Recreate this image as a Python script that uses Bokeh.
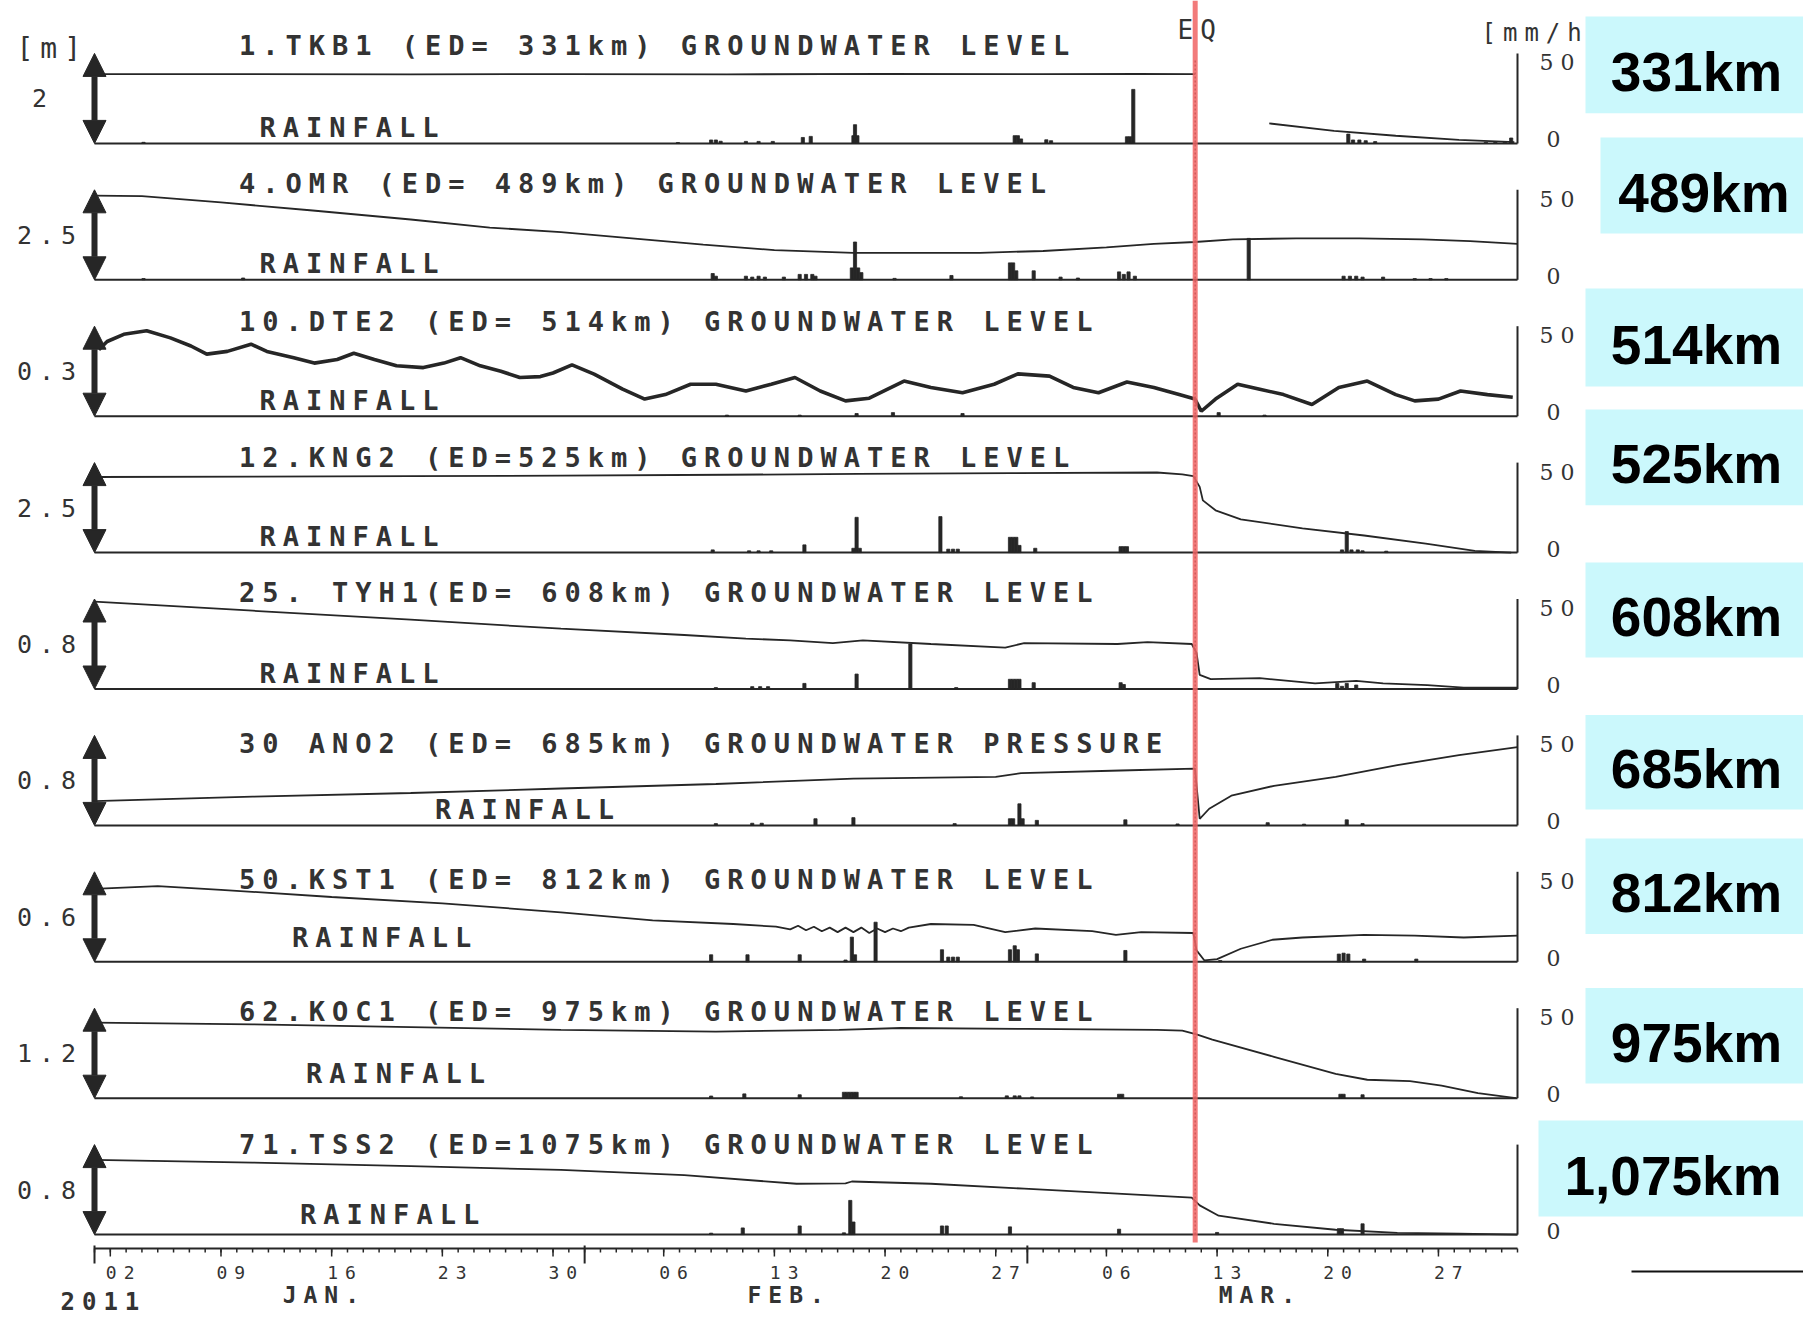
import numpy as np
from bokeh.plotting import figure
from bokeh.layouts import row
from bokeh.models import Range1d, Arrow, NormalHead, InlineStyleSheet
from bokeh.core.properties import value
from bokeh.embed import file_html
from bokeh.resources import INLINE

NaN = float("nan")

# ---------------------------------------------------------------- data
# time axis: days since 2011-01-01 00:00 (JST)
DAY_START, DAY_END = 0, 90
EQ_DAY = 69.615                      # 2011-03-11 14:46
RAIN_MAX = 50                        # mm/h at the top of every panel
rain_tick_labels = ["50", "0"]

panel_titles = [
    "1.TKB1 (ED= 331km) GROUNDWATER LEVEL",
    "4.OMR (ED= 489km) GROUNDWATER LEVEL",
    "10.DTE2 (ED= 514km) GROUNDWATER LEVEL",
    "12.KNG2 (ED=525km) GROUNDWATER LEVEL",
    "25. TYH1(ED= 608km) GROUNDWATER LEVEL",
    "30 ANO2 (ED= 685km) GROUNDWATER PRESSURE",
    "50.KST1 (ED= 812km) GROUNDWATER LEVEL",
    "62.KOC1 (ED= 975km) GROUNDWATER LEVEL",
    "71.TSS2 (ED=1075km) GROUNDWATER LEVEL",
]
distance_labels = ["331km", "489km", "514km", "525km", "608km",
                   "685km", "812km", "975km", "1,075km"]
gw_scale_m = [2.0, 2.5, 0.3, 2.5, 0.8, 0.8, 0.6, 1.2, 0.8]
gw_scale_labels = ["2", "2.5", "0.3", "2.5", "0.8", "0.8", "0.6", "1.2", "0.8"]

# groundwater level, metres above the bottom of each panel
gw1_day = [0, 10, 20, 30, 40, 50, 60, 66, 69.6, NaN, 74.3, 78.4, 82.3, 86.3, 89.8]
gw1_m = [1.54, 1.54, 1.536, 1.54, 1.534, 1.544, 1.54, 1.544, 1.54, NaN, 0.444, 0.28, 0.17, 0.08, 0.03]

gw2_day = [0, 3, 8, 13.8, 20, 25, 29.5, 34, 38.5, 43, 48, 52, 56, 60, 64, 67, 69.6,
           72, 76, 80, 84, 87, 90]
gw2_m = [2.34, 2.325, 2.15, 1.925, 1.675, 1.45, 1.325, 1.15, 0.975, 0.825, 0.75, 0.75,
         0.75, 0.80, 0.90, 1.00, 1.05, 1.125, 1.15, 1.15, 1.125, 1.075, 1.00]

gw3_day = [0.27, 0.8, 1.85, 3.3, 4.8, 6.1, 7.1, 8.4, 9.9, 10.9, 12.6, 13.9, 15.35, 16.4,
           17.7, 19.1, 20.8, 22.1, 23.15, 24.4, 25.7, 26.9, 28.2, 29.0, 30.2, 31.6,
           33.4, 34.8, 36.1, 37.7, 39.3, 41.2, 42.8, 44.3, 45.9, 47.5, 49.0, 51.2, 52.9,
           54.9, 56.9, 58.4, 60.4, 61.9, 63.5, 65.3, 67.0, 68.6, 69.6, 70.0, 70.9, 72.3,
           73.7, 75.2, 77.0, 78.7, 80.5, 82.3, 83.5, 85.0, 86.4, 88.1, 89.7]
gw3_m = [0.222, 0.249, 0.273, 0.285, 0.261, 0.234, 0.207, 0.216, 0.240, 0.216, 0.195,
         0.177, 0.189, 0.210, 0.189, 0.168, 0.162, 0.177, 0.195, 0.168, 0.150, 0.129,
         0.132, 0.144, 0.171, 0.140, 0.090, 0.057, 0.072, 0.1065, 0.1065, 0.084, 0.1065,
         0.129, 0.084, 0.051, 0.060, 0.117, 0.096, 0.078, 0.1065, 0.141, 0.1335, 0.096,
         0.078, 0.114, 0.096, 0.072, 0.057, 0.0165, 0.057, 0.1065, 0.090, 0.072, 0.039,
         0.096, 0.117, 0.072, 0.051, 0.057, 0.084, 0.072, 0.063]

gw4_day = [0, 10, 20, 29.5, 40, 48.3, 58, 67.2, 68.8, 69.5, 69.9, 70.1, 70.9, 72.5,
           76.4, 80.3, 84.2, 87.3, 89.6]
gw4_m = [2.10, 2.1125, 2.125, 2.1375, 2.1625, 2.185, 2.205, 2.225, 2.175, 2.125, 1.825,
         1.45, 1.175, 0.925, 0.675, 0.475, 0.25, 0.05, 0.0]

gw5_day = [0, 10, 20, 29.5, 37.3, 41.2, 44, 46.7, 48.6, 52.9, 57.6, 58.8, 64.7, 66.6,
           69.4, 69.7, 69.9, 70.6, 73.7, 77.2, 79.8, 81.5, 84.3, 86.6, 90]
gw5_m = [0.776, 0.696, 0.616, 0.536, 0.48, 0.448, 0.432, 0.408, 0.432, 0.40, 0.368,
         0.408, 0.40, 0.416, 0.40, 0.32, 0.125, 0.088, 0.096, 0.05, 0.072, 0.05, 0.035,
         0.012, 0.012]

gw6_day = [0, 10, 20, 29.5, 39.3, 48.0, 57.0, 58.6, 64.9, 69.6, 69.9, 70.5, 71.9, 74.6,
           78.5, 82.4, 86.3, 90]
gw6_m = [0.216, 0.256, 0.288, 0.328, 0.368, 0.416, 0.432, 0.464, 0.488, 0.504, 0.059,
         0.148, 0.264, 0.352, 0.432, 0.536, 0.624, 0.696]

gw7_day = [0, 4, 8, 15, 22, 29.5, 35.3, 40.4, 43.1, 44, 44.5, 45, 45.5, 46, 46.5, 47,
           47.5, 48, 48.5, 49, 49.5, 50, 50.5, 51, 51.5, 52.9, 55.6, 57.6, 59.5, 63.1,
           64.6, 66.2, 69.5, 69.7, 70.2, 71.0, 72.5, 74.5, 76.4, 80.3, 83.5, 86.6, 90]
gw7_m = [0.486, 0.504, 0.48, 0.432, 0.39, 0.33, 0.276, 0.252, 0.234, 0.216, 0.24, 0.21,
         0.234, 0.204, 0.228, 0.198, 0.228, 0.198, 0.228, 0.192, 0.222, 0.198, 0.222,
         0.204, 0.228, 0.252, 0.246, 0.198, 0.222, 0.204, 0.18, 0.198, 0.192, 0.076,
         0.009, 0.018, 0.087, 0.147, 0.162, 0.18, 0.174, 0.162, 0.174]

gw8_day = [0, 10, 20, 29.5, 39.3, 47.1, 51.0, 58.9, 67.2, 68.8, 69.7, 70.7, 74.6, 78.5,
           80.5, 83.2, 85.2, 87.5, 89.9]
gw8_m = [1.008, 0.984, 0.948, 0.912, 0.888, 0.912, 0.936, 0.924, 0.912, 0.90, 0.852,
         0.78, 0.552, 0.324, 0.246, 0.228, 0.168, 0.068, 0.0]

gw9_day = [0, 10, 20, 29.5, 37.3, 44.4, 47.5, 47.9, 52.9, 58.8, 64.7, 69.4, 69.9, 71.1,
           74.6, 78.5, 82.4, 86.3, 90]
gw9_m = [0.664, 0.64, 0.608, 0.576, 0.528, 0.452, 0.456, 0.472, 0.452, 0.408, 0.364,
         0.328, 0.26, 0.168, 0.096, 0.043, 0.016, 0.008, 0.0]

# hourly rainfall, mm/h
rain1_day = [3.1, 36.9, 39.0, 39.3, 39.6, 41.2, 42.0, 42.9, 44.8, 45.3, 48.0, 48.1, 48.25,
             58.2, 58.4, 58.6, 60.2, 60.5, 65.3, 65.5, 65.7, 79.3, 79.6, 80.0, 80.4, 81.0,
             88.0, 88.6, 89.2, 89.6]
rain1_mm = [0.6, 0.5, 1.9, 1.9, 1.2, 1.1, 1.1, 1.1, 3.3, 3.9, 4.3, 10.4, 4.3, 4.3, 4.3,
            2.5, 2.0, 1.5, 3.7, 3.7, 30, 5.2, 1.9, 1.9, 1.5, 1.0, 0.7, 0.7, 0.7, 3.0]

rain2_day = [3.1, 9.4, 39.1, 39.3, 41.2, 41.6, 42.0, 42.4, 43.6, 44.6, 45.0, 45.4, 45.6,
             47.9, 48.1, 48.3, 48.5, 50.6, 54.2, 57.9, 58.1, 58.3, 59.4, 61.1, 62.2, 64.8,
             65.1, 65.4, 65.8, 73.0, 79.0, 79.4, 79.8, 80.2, 81.5, 83.5, 84.5, 85.5]
rain2_mm = [0.7, 1.0, 3.5, 2.0, 2.0, 1.5, 2.0, 1.5, 1.5, 3.0, 3.0, 3.0, 2.0, 6.6, 21, 6.6,
            4.0, 0.8, 2.4, 9.4, 9.4, 5.0, 5.0, 1.5, 1.0, 4.4, 3.0, 4.4, 2.0, 23, 2.0, 2.0,
            2.0, 1.5, 1.5, 0.7, 0.7, 0.7]

rain3_day = [40.0, 44.6, 48.2, 50.5, 54.9, 71.1, 74.0]
rain3_mm = [0.6, 0.6, 1.5, 2.0, 1.5, 2.0, 0.6]

rain4_day = [39.1, 41.4, 42.0, 42.8, 44.9, 48.0, 48.2, 48.4, 53.5, 54.0, 54.3, 54.6, 57.9,
             58.1, 58.3, 58.5, 59.5, 64.9, 65.1, 65.3, 78.9, 79.2, 79.5, 79.9, 80.2, 81.7]
rain4_mm = [1.5, 1.0, 1.0, 1.0, 4.3, 2.4, 19.6, 2.4, 20, 1.9, 1.9, 1.9, 8.5, 8.5, 8.5, 4.0,
            2.4, 3.3, 3.3, 3.3, 1.5, 11.7, 1.5, 1.5, 1.0, 0.8]

rain5_day = [39.3, 41.6, 42.1, 42.6, 44.9, 48.2, 51.6, 54.5, 57.9, 58.1, 58.3, 58.5, 59.4,
             64.9, 65.1, 78.6, 78.9, 79.2, 79.8]
rain5_mm = [0.8, 1.3, 1.3, 1.3, 3.1, 8.3, 25, 0.8, 5.4, 5.4, 5.4, 5.4, 3.5, 3.5, 2.5, 3.1,
            1.5, 3.1, 2.2]

rain6_day = [39.3, 41.6, 42.2, 45.6, 48.0, 54.4, 57.9, 58.1, 58.5, 58.7, 59.6, 65.2, 68.5,
             74.2, 76.5, 79.2, 80.2]
rain6_mm = [1.0, 1.2, 1.2, 3.7, 4.3, 1.0, 3.7, 3.7, 12, 3.7, 2.8, 3.1, 0.8, 1.5, 0.7, 3.1,
            1.0]

rain7_day = [39.0, 41.3, 44.6, 47.5, 47.9, 48.1, 49.4, 53.6, 54.0, 54.3, 54.6, 57.9, 58.2,
             58.4, 59.6, 65.2, 71.2, 78.7, 79.0, 79.3, 80.3, 83.6]
rain7_mm = [3.9, 3.9, 3.9, 1.0, 13.7, 3.9, 22, 6.7, 2.6, 2.6, 2.6, 6.7, 8.9, 6.7, 4.4, 6.3,
            0.7, 4.3, 4.8, 4.3, 1.5, 1.5]

rain8_day = [39.0, 41.1, 44.6, 47.4, 47.6, 47.8, 48.0, 48.2, 54.8, 57.7, 58.2, 58.5, 59.3,
             64.8, 65.0, 78.8, 79.0, 80.2]
rain8_mm = [1.2, 2.4, 1.9, 3.3, 3.3, 3.3, 3.3, 3.3, 0.8, 1.3, 1.3, 1.3, 0.7, 2.2, 2.2, 2.2,
            2.2, 1.9]

rain9_day = [39.0, 41.0, 44.6, 47.4, 47.8, 48.0, 53.6, 53.9, 57.9, 64.8, 71.0, 78.7, 78.9,
             80.2]
rain9_mm = [0.8, 3.7, 4.8, 1.0, 19, 7.0, 4.8, 4.8, 4.3, 3.0, 1.2, 3.3, 3.3, 6.0]

gw_days = [gw1_day, gw2_day, gw3_day, gw4_day, gw5_day, gw6_day, gw7_day, gw8_day, gw9_day]
gw_vals = [gw1_m, gw2_m, gw3_m, gw4_m, gw5_m, gw6_m, gw7_m, gw8_m, gw9_m]
rain_days = [rain1_day, rain2_day, rain3_day, rain4_day, rain5_day, rain6_day, rain7_day,
             rain8_day, rain9_day]
rain_vals = [rain1_mm, rain2_mm, rain3_mm, rain4_mm, rain5_mm, rain6_mm, rain7_mm,
             rain8_mm, rain9_mm]

# date axis
all_days = list(range(DAY_START, DAY_END + 1))
week_tick_days = [1, 8, 15, 22, 29, 36, 43, 50, 57, 64, 71, 78, 85]
week_tick_labels = ["02", "09", "16", "23", "30", "06", "13", "20", "27",
                    "06", "13", "20", "27"]
month_start_days = [0, 31, 59]
month_labels = ["JAN.", "FEB.", "MAR."]
month_label_days = [11.9, 41.3, 71.1]     # where each month name starts
year_label = "2011"
year_label_day = -2.15

# ---------------------------------------------------------------- layout
W, H = 1803, 1314          # canvas, reference pixel = canvas pixel
X_DAY0, X_DAY90 = 94.0, 1517.0
PX_PER_DAY = (X_DAY90 - X_DAY0) / 90.0
Y_AXIS = 1248.0
BASE0, STEP, BAND = 142.9, 136.4, 90.0


def xd(xref):
    return (xref - X_DAY0) / PX_PER_DAY


def yp(yref):
    return Y_AXIS - yref


INK = "#262626"
TXT = "#333333"
CYAN = "#cbf8fc"
MONO = value("DejaVu Sans Mono")

x_range = Range1d(xd(0), xd(W))
y_range = Range1d(yp(H), yp(0))
bases = [yp(BASE0 + STEP * k) for k in range(9)]

extra = {}
for k, b in enumerate(bases):
    extra[f"rain{k}"] = Range1d((y_range.start - b) / BAND * RAIN_MAX,
                                (y_range.end - b) / BAND * RAIN_MAX)
    extra[f"gw{k}"] = Range1d((y_range.start - b) / BAND * gw_scale_m[k],
                              (y_range.end - b) / BAND * gw_scale_m[k])

p = figure(width=W, height=H, x_range=x_range, y_range=y_range,
           output_backend="svg", toolbar_location=None,
           x_axis_type=None, y_axis_type=None, min_border=0,
           outline_line_color=None, background_fill_color="white",
           border_fill_color="white")
p.extra_y_ranges = extra
p.stylesheets = [InlineStyleSheet(css=":host { letter-spacing: 7px; }")]

title_off = [97.7, 96, 94.3, 95.4, 96.3, 81.7, 82.7, 86.6, 90]
rain_lbl_x = [259, 259, 259, 259, 259, 434.5, 291.6, 305.4, 299.6]
rain_lbl_off = [16, 16, 16, 16, 16, 16, 24, 25, 20]

for k in range(9):
    rn, gn, b = f"rain{k}", f"gw{k}", bases[k]
    # rainfall baseline + right rainfall axis
    p.segment(x0=[DAY_START], y0=[0], x1=[DAY_END], y1=[0], y_range_name=rn,
              line_color=INK, line_width=2)
    p.segment(x0=[DAY_END], y0=[0], x1=[DAY_END], y1=[RAIN_MAX], y_range_name=rn,
              line_color=INK, line_width=2)
    p.vbar(x=rain_days[k], top=rain_vals[k], bottom=0, width=0.2, y_range_name=rn,
           fill_color=INK, line_color=INK, line_width=0.8)
    p.line(gw_days[k], gw_vals[k], y_range_name=gn, line_color=INK,
           line_width=3.6 if k == 2 else 1.8)
    p.add_layout(Arrow(x_start=DAY_START, y_start=0, x_end=DAY_START, y_end=gw_scale_m[k],
                       y_range_name=gn, line_color=INK, line_width=6,
                       start=NormalHead(size=23, fill_color=INK, line_color=INK),
                       end=NormalHead(size=23, fill_color=INK, line_color=INK)))
    p.text(x=[xd(39)], y=[gw_scale_m[k] / 2], text=[gw_scale_labels[k]], y_range_name=gn,
           text_align="center", text_baseline="middle", text_font=MONO,
           text_font_size="25px", text_color=TXT)
    p.text(x=[xd(1553)] * 2, y=[RAIN_MAX, 0], text=rain_tick_labels, y_offset=[9, -4],
           y_range_name=rn, text_align="center", text_baseline="middle",
           text_font=value("DejaVu Serif"), text_font_size="22px", text_color=TXT)
    p.text(x=[xd(238.5)], y=[b + title_off[k]], text=[panel_titles[k]],
           text_align="left", text_baseline="middle", text_font=MONO,
           text_font_size="27px", text_font_style="bold", text_color=TXT)
    p.text(x=[xd(rain_lbl_x[k])], y=[b + rain_lbl_off[k]], text=["RAINFALL"],
           text_align="left", text_baseline="middle", text_font=MONO,
           text_font_size="27px", text_font_style="bold", text_color=TXT)

# unit labels and EQ marker
p.text(x=[xd(16)], y=[yp(48)], text=["[m]"], text_align="left", text_baseline="middle",
       text_font=MONO, text_font_size="28px", text_color=TXT)
p.text(x=[xd(1481)], y=[yp(32)], text=["[mm/h]"], text_align="left",
       text_baseline="middle", text_font=MONO, text_font_size="24px", text_color=TXT)
p.segment(x0=[EQ_DAY], y0=[yp(60)], x1=[EQ_DAY], y1=[bases[8]], line_color=INK,
          line_width=1.5, line_dash="2 2")
p.segment(x0=[EQ_DAY], y0=[yp(1242)], x1=[EQ_DAY], y1=[y_range.end], line_color="#f06464",
          line_alpha=0.85, line_width=5)
p.text(x=[xd(1177)], y=[yp(29)], text=["EQ"], text_align="left", text_baseline="middle",
       text_font=MONO, text_font_size="26px", text_color=TXT)

# date axis
p.segment(x0=[DAY_START], y0=[0], x1=[DAY_END], y1=[0], line_color=INK, line_width=2)
p.segment(x0=all_days, y0=0, x1=all_days, y1=-4, line_color=INK, line_width=1.5)
p.segment(x0=week_tick_days, y0=0, x1=week_tick_days, y1=-8, line_color=INK, line_width=1.5)
p.segment(x0=month_start_days, y0=3, x1=month_start_days, y1=-15, line_color=INK,
          line_width=2)
p.text(x=[d + 0.4 for d in week_tick_days], y=-24, text=week_tick_labels,
       text_align="center", text_baseline="middle", text_font=MONO,
       text_font_size="18px", text_color=TXT)
p.text(x=month_label_days, y=-46, text=month_labels, text_align="left",
       text_baseline="middle", text_font=MONO, text_font_size="23px",
       text_font_style="bold", text_color=TXT)
p.text(x=[year_label_day], y=[-52], text=[year_label], text_align="left",
       text_baseline="middle", text_font=MONO, text_font_size="24px",
       text_font_style="bold", text_color=TXT)
p.segment(x0=[xd(1631)], y0=[yp(1271)], x1=[x_range.end], y1=[yp(1271)],
          line_color="#111111", line_width=2)

# ---------------------------------------------------------------- distance boxes
# a transparent overlay figure (no letter spacing) laid over the right edge
BOX_X0 = 1500
q = figure(width=W - BOX_X0, height=H, x_range=Range1d(BOX_X0, W), y_range=Range1d(H, 0),
           output_backend="svg", toolbar_location=None, x_axis_type=None,
           y_axis_type=None, min_border=0, outline_line_color=None,
           background_fill_color=None, border_fill_color=None)
q.margin = (0, 0, 0, -(W - BOX_X0))

box_left = [1585, 1600, 1585, 1585, 1585, 1585, 1585, 1585, 1538]
box_top = [16, 137, 288, 409, 562, 714.5, 838, 987.6, 1120]
box_bot = [112.7, 233, 386, 504.7, 657, 809, 933.5, 1083, 1216]
q.quad(left=box_left, right=W + 10, top=box_top, bottom=box_bot,
       fill_color=CYAN, line_color=None)
q.text(x=[(v + 1807) / 2 for v in box_left],
       y=[(t + bb) / 2 + 7 for t, bb in zip(box_top, box_bot)],
       text=distance_labels, text_align="center", text_baseline="middle",
       text_font=value("Liberation Sans"), text_font_style="bold",
       text_font_size="55px", text_color="black")

layout = row(p, q)
layout.spacing = 0

open("out.html", "w").write(file_html(layout, INLINE))
